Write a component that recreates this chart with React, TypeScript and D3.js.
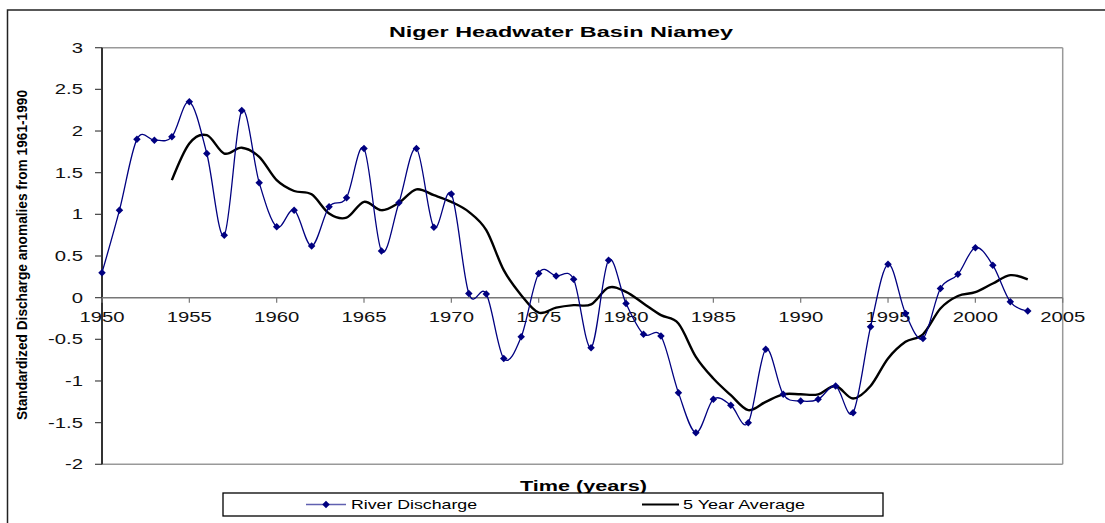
import React from "react";
import * as d3 from "d3";

// yearly standardized discharge anomalies
const years = d3.range(1950, 2004);
const discharge = [
  0.3, 1.05, 1.9, 1.89, 1.93, 2.35, 1.73, 0.75, 2.245, 1.38,
  0.85, 1.05, 0.62, 1.09, 1.2, 1.79, 0.56, 1.14, 1.79, 0.845,
  1.245, 0.05, 0.045, -0.73, -0.47, 0.29, 0.26, 0.22, -0.6, 0.45,
  -0.07, -0.44, -0.46, -1.14, -1.62, -1.22, -1.29, -1.5, -0.62, -1.16,
  -1.24, -1.22, -1.06, -1.38, -0.35, 0.4, -0.19, -0.49, 0.11, 0.28,
  0.6, 0.39, -0.05, -0.16,
];
// 5 year average starts in 1954
const avgYears = d3.range(1954, 2004);
const average = [
  1.41, 1.85, 1.95, 1.73, 1.8, 1.69, 1.41, 1.28, 1.24, 1.01,
  0.96, 1.15, 1.05, 1.14, 1.3, 1.23, 1.15, 1.03, 0.81, 0.33,
  0.03, -0.18, -0.12, -0.09, -0.08, 0.12, 0.07, -0.07, -0.21, -0.31,
  -0.71, -0.97, -1.17, -1.35, -1.25, -1.16, -1.16, -1.16, -1.06, -1.21,
  -1.06, -0.73, -0.53, -0.44, -0.13, 0.02, 0.065, 0.17, 0.27, 0.22,
];
const xTicks = [1950, 1955, 1960, 1965, 1970, 1975, 1980, 1985, 1990, 1995, 2000, 2005];
const yTicks = [3, 2.5, 2, 1.5, 1, 0.5, 0, -0.5, -1, -1.5, -2];

const font = "'Liberation Sans', Arial, sans-serif";

export default function App() {
  const left = 102, right = 1062.7, top = 47.7, bottom = 464.3;
  const x = d3.scaleLinear().domain([1950, 2005]).range([left, right]);
  const y = d3.scaleLinear().domain([-2, 3]).range([bottom, top]);
  const y0 = y(0);

  const line = d3.line<[number, number]>()
    .x(d => x(d[0]))
    .y(d => y(d[1]))
    .curve(d3.curveCardinal.tension(0));

  const disPts: [number, number][] = years.map((yr, i) => [yr, discharge[i]]);
  const avgPts: [number, number][] = avgYears.map((yr, i) => [yr, average[i]]);
  const diamond = d3.symbol().type(d3.symbolSquare).size(28)();

  return (
    <svg width={1105} height={523} style={{ position: "absolute", left: 0, top: 0, background: "#fff" }}>
      <rect x={7.5} y={10} width={1110} height={530} fill="#fff" stroke="#222" strokeWidth={1.5} />

      <text x={389} y={37} fontFamily={font} fontWeight="bold" fontSize={14}
        textLength={344} lengthAdjust="spacingAndGlyphs">Niger Headwater Basin Niamey</text>

      {/* plot frame */}
      <line x1={left} x2={right} y1={top} y2={top} stroke="#999" strokeWidth={1.5} />
      <line x1={right} x2={right} y1={top} y2={bottom} stroke="#999" strokeWidth={1.5} />
      <line x1={left} x2={right} y1={bottom} y2={bottom} stroke="#999" strokeWidth={1.5} />

      {/* y axis */}
      {yTicks.map(t => (
        <g key={t}>
          <line x1={left - 7} x2={left} y1={y(t)} y2={y(t)} stroke="#444" strokeWidth={1.2} />
          <text transform={`translate(83,${y(t)}) scale(1.45,1)`} dy="0.36em" textAnchor="end"
            fontFamily={font} fontSize={14} fill="#111">{t}</text>
        </g>
      ))}
      <line x1={left} x2={left} y1={top} y2={bottom} stroke="#333" strokeWidth={2} />

      {/* x axis at zero */}
      <line x1={left} x2={right} y1={y0} y2={y0} stroke="#777" strokeWidth={1.5} />
      {xTicks.map(t => (
        <g key={t}>
          <line x1={x(t)} x2={x(t)} y1={y0} y2={y0 + 5} stroke="#777" strokeWidth={1.2} />
          <text transform={`translate(${x(t)},${y0 + 24}) scale(1.45,1)`} textAnchor="middle"
            fontFamily={font} fontSize={14} fill="#111">{t}</text>
        </g>
      ))}

      {/* series */}
      <path d={line(avgPts) ?? ""} fill="none" stroke="#000" strokeWidth={2.4} />
      <path d={line(disPts) ?? ""} fill="none" stroke="#000080" strokeWidth={1.3} />
      {disPts.map(d => (
        <path key={d[0]} d={diamond ?? ""} fill="#000080"
          transform={`translate(${x(d[0])},${y(d[1])}) rotate(45)`} />
      ))}

      {/* axis titles */}
      <text transform="translate(27,255) rotate(-90)" textAnchor="middle" fontFamily={font}
        fontWeight="bold" fontSize={15} textLength={330} lengthAdjust="spacingAndGlyphs">
        Standardized Discharge anomalies from 1961-1990
      </text>
      <text x={520} y={491} fontFamily={font} fontWeight="bold" fontSize={14}
        textLength={127} lengthAdjust="spacingAndGlyphs">Time (years)</text>

      {/* legend */}
      <rect x={223} y={493} width={660} height={23} fill="#fff" stroke="#000" strokeWidth={1.3} />
      <line x1={306} x2={346} y1={504.5} y2={504.5} stroke="#6060b0" strokeWidth={1.3} />
      <path d={diamond ?? ""} fill="#000080" transform="translate(326,504.5) rotate(45)" />
      <text x={351} y={509} fontFamily={font} fontSize={13} textLength={126}
        lengthAdjust="spacingAndGlyphs">River Discharge</text>
      <line x1={642} x2={679} y1={504.5} y2={504.5} stroke="#000" strokeWidth={2} />
      <text x={683} y={509} fontFamily={font} fontSize={13} textLength={122}
        lengthAdjust="spacingAndGlyphs">5 Year Average</text>
    </svg>
  );
}
